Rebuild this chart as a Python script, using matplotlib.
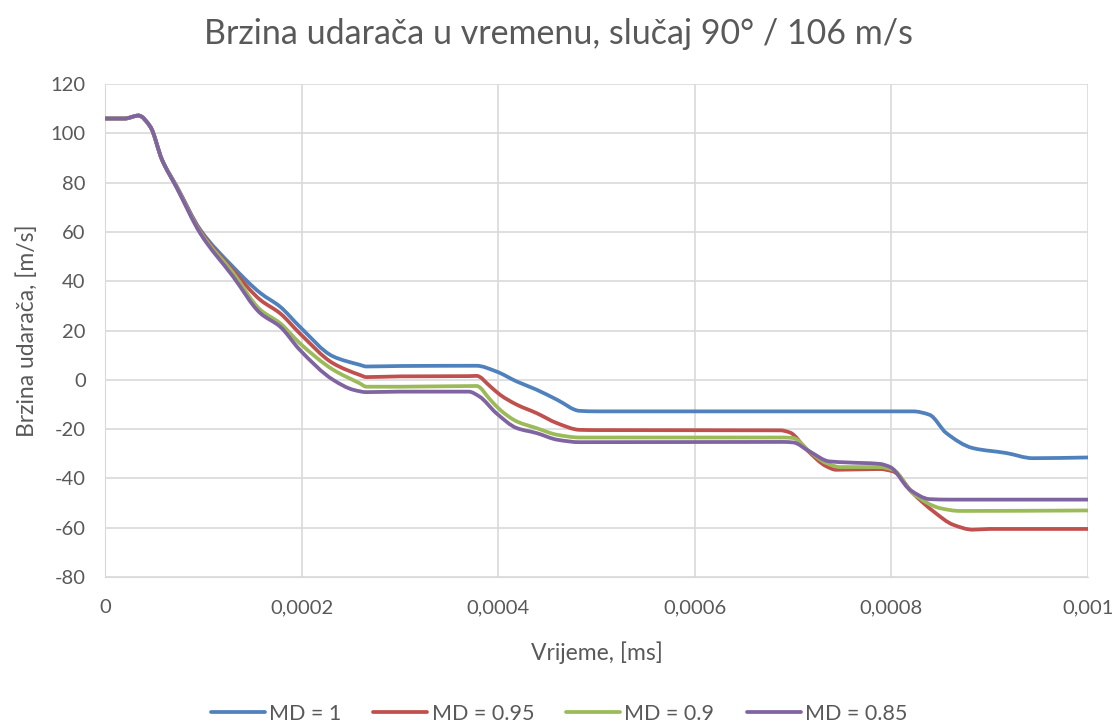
import numpy as np
import matplotlib.pyplot as plt
from matplotlib.path import Path
from matplotlib.patches import PathPatch
from matplotlib.lines import Line2D
from matplotlib.ticker import FuncFormatter

# time samples in units of 1e-5 (converted below), speed in m/s
t_md100 = [0, 2, 3.4, 4.6, 5.8, 7.3, 9.7, 13, 15.8, 17.8, 19.8, 23.2, 25.9, 26.6, 30, 37.8,
           39.8, 41.9, 43.9, 46, 48.3, 50, 82.2, 83.9, 85.6, 88.3, 91.7, 94.4, 100]
v_md100 = [106, 106, 107.2, 102.7, 89.2, 78.4, 60.8, 45.9, 35.2, 29.7, 21.6, 9.5, 6.1, 5.4, 5.6, 5.7,
           3.4, -0.7, -4, -8.1, -12.6, -12.8, -12.8, -14.2, -21.6, -27.7, -29.7, -31.8, -31.5]

t_md095 = [0, 2, 3.4, 4.6, 5.8, 7.3, 9.7, 13, 15.8, 17.8, 19.8, 23.2, 25.9, 26.6, 30, 37, 37.8,
           39.2, 40.2, 41.9, 43.9, 46, 48.3, 50, 68.7, 69.7, 71.4, 73.4, 74.4, 78.8, 80.2,
           82.2, 84.3, 86.3, 88.3, 90, 100]
v_md095 = [106, 106, 107.2, 102.7, 89.2, 78.2, 60.3, 44.5, 32.4, 27, 18.9, 6.7, 2.0, 1.1, 1.4, 1.5, 1.6,
           -2.7, -6.1, -10.1, -13.5, -17.6, -20.3, -20.4, -20.5, -21.4, -28.4, -35.1, -36.5, -36.2, -37.2,
           -46, -53.4, -58.8, -60.8, -60.5, -60.5]

t_md090 = [0, 2, 3.4, 4.6, 5.8, 7.3, 9.7, 13, 15.8, 17.8, 19.8, 23.2, 25.9, 26.6, 30, 37.8,
           39.2, 40.2, 41.9, 43.9, 46, 48.3, 69, 70, 71.7, 73.4, 74.8, 78.8, 80.2,
           82.2, 85, 87, 100]
v_md090 = [106, 106, 107.2, 102.7, 89.2, 78.0, 59.8, 43.5, 28.4, 23, 14.9, 4.1, -1.4, -2.8, -2.8, -2.5,
           -8.1, -12.2, -16.9, -19.6, -22.3, -23.4, -23.4, -23.6, -29.1, -33.8, -35.4, -35.4, -36.5,
           -46, -52.1, -53.2, -53]

t_md085 = [0, 2, 3.4, 4.6, 5.8, 7.3, 9.7, 13, 15.8, 17.8, 19.8, 23.2, 25.3, 26.6, 30, 37,
           38.1, 39.8, 41.9, 43.9, 46, 48.3, 69, 70, 71.7, 73.7, 75.4, 78.8, 79.9,
           81.9, 83.9, 86, 100]
v_md085 = [106, 106, 107.2, 102.7, 89.2, 77.8, 59.3, 42, 27, 21.6, 12.2, 0, -4.1, -5.0, -4.8, -4.8,
           -6.8, -13.5, -19.6, -21.6, -24.3, -25.3, -25.2, -25.4, -29.1, -33.1, -33.5, -34.1, -35.4,
           -44.6, -48.4, -48.6, -48.6]

labels = ['MD = 1', 'MD = 0.95', 'MD = 0.9', 'MD = 0.85']
colors = ['#4F81BD', '#C0504D', '#9BBB59', '#8064A2']
series = [(t_md100, v_md100), (t_md095, v_md095), (t_md090, v_md090), (t_md085, v_md085)]

plt.rcParams['font.family'] = ['Lato', 'DejaVu Sans']
plt.rcParams['axes.unicode_minus'] = False


def smooth_path(x, y):
    """Smoothed line through the points: cubic Bezier segments with monotone slopes."""
    x = np.asarray(x, float)
    y = np.asarray(y, float)
    h = np.diff(x)
    d = np.diff(y) / h
    n = len(x)
    m = np.zeros(n)
    m[0], m[-1] = d[0], d[-1]
    for i in range(1, n - 1):
        if d[i - 1] * d[i] > 0:
            w1 = 2 * h[i] + h[i - 1]
            w2 = h[i] + 2 * h[i - 1]
            m[i] = (w1 + w2) / (w1 / d[i - 1] + w2 / d[i])
    verts = [(x[0], y[0])]
    codes = [Path.MOVETO]
    for i in range(n - 1):
        verts += [(x[i] + h[i] / 3, y[i] + m[i] * h[i] / 3),
                  (x[i + 1] - h[i] / 3, y[i + 1] - m[i + 1] * h[i] / 3),
                  (x[i + 1], y[i + 1])]
        codes += [Path.CURVE4] * 3
    return Path(verts, codes)


fig = plt.figure(figsize=(11.18, 7.28), dpi=100, facecolor='w')
ax = fig.add_axes([0.094, 0.2074, 0.879, 0.6772])

handles = []
for (t, v), lab, c in zip(series, labels, colors):
    path = smooth_path(np.array(t) * 1e-5, v)
    ax.add_patch(PathPatch(path, fill=False, edgecolor=c, lw=2.7,
                           joinstyle='round', capstyle='round', zorder=3))
    handles.append(Line2D([], [], color=c, lw=2.7, solid_capstyle='round', label=lab))

ax.set_xlim(0, 0.001)
ax.set_ylim(-80, 120)
ax.set_xticks(np.linspace(0, 0.001, 6))
ax.set_yticks(np.arange(-80, 121, 20))


def comma_fmt(x, pos):
    s = ('%.4f' % x).rstrip('0').rstrip('.')
    return s.replace('.', ',')


ax.xaxis.set_major_formatter(FuncFormatter(comma_fmt))
ax.grid(True, color='#d9d9d9', lw=1.2)
ax.set_axisbelow(True)
for sp in ax.spines.values():
    sp.set_visible(False)
ax.spines['left'].set_visible(True)
ax.spines['left'].set_color('#d9d9d9')
ax.spines['bottom'].set_visible(True)
ax.spines['bottom'].set_color('#d9d9d9')
ax.tick_params(length=0, labelsize=14.5, colors='#595959')
ax.tick_params(axis='x', pad=16)
ax.tick_params(axis='y', pad=14)

fig.text(0.5, 1 - 34 / 728, 'Brzina udarača u vremenu, slučaj 90° / 106 m/s',
         fontsize=24.5, color='#595959', ha='center', va='center')
ax.set_xlabel('Vrijeme, [ms]', fontsize=16.5, color='#595959', labelpad=18)
ax.set_ylabel('Brzina udarača, [m/s]', fontsize=16.5, color='#595959', labelpad=9)

fig.legend(handles=handles, loc='center', ncol=4, frameon=False, fontsize=15.5,
           handlelength=2.5, handletextpad=0.2, columnspacing=1.5, borderpad=0.2,
           bbox_to_anchor=(0.5, 1 - 714 / 728), labelcolor='#595959')

plt.savefig('out.png', dpi=100)
